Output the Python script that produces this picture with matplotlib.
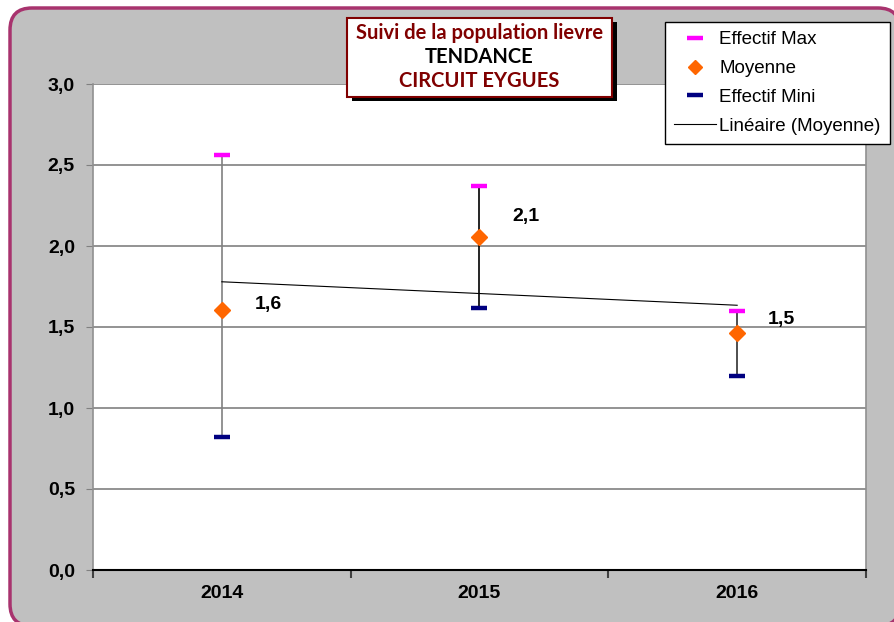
import numpy as np
import matplotlib
matplotlib.use("Agg")
import matplotlib.pyplot as plt
from matplotlib.patches import FancyBboxPatch, Rectangle
from matplotlib.lines import Line2D
from matplotlib.transforms import IdentityTransform

# ---- data ----
years = ["2014", "2015", "2016"]
eff_max = [2.56, 2.37, 1.60]
moyenne = [1.605, 2.055, 1.46]
eff_min = [0.82, 1.62, 1.20]
labels_moy = ["1,6", "2,1", "1,5"]
y_ticks = [0.0, 0.5, 1.0, 1.5, 2.0, 2.5, 3.0]
y_ticklabels = ["0,0", "0,5", "1,0", "1,5", "2,0", "2,5", "3,0"]
legend_labels = ["Effectif Max", "Moyenne", "Effectif Mini", "Linéaire (Moyenne)"]
title_lines = ["Suivi de la population lievre", "TENDANCE", "CIRCUIT EYGUES"]

W, H = 894, 622
DPI = 100
fig = plt.figure(figsize=(W / DPI, H / DPI), dpi=DPI)
fig.patch.set_facecolor("white")

# outer rounded frame
frame = FancyBboxPatch((10, -4), 890, H - 8 + 4, boxstyle="round,pad=0,rounding_size=22",
                       transform=IdentityTransform(), facecolor="#C0C0C0",
                       edgecolor="#A8336E", linewidth=2.5, zorder=0)
fig.add_artist(frame)

def fx(px):
    return px / W

def fy(py):
    return 1 - py / H

ax = fig.add_axes([fx(93), fy(570), fx(866) - fx(93), fy(84) - fy(570)])
ax.set_facecolor("white")

x = np.arange(len(years))
ax.set_xlim(-0.5, len(years) - 0.5)
ax.set_ylim(0, 3.0)

# gridlines
for yv in y_ticks[1:]:
    ax.axhline(yv, color="#808080", lw=1.2, zorder=1)

# error lines (min to max)
vcols = ["#808080", "#000000", "#303030"]
for i in range(len(years)):
    ax.plot([x[i], x[i]], [eff_min[i], eff_max[i]], color=vcols[i], lw=1.2, zorder=2)

# trend line
coef = np.polyfit(x, moyenne, 1)
ax.plot(x, np.polyval(coef, x), color="black", lw=0.8, zorder=2)

# markers
dash_kw = dict(marker="_", markersize=12, markeredgewidth=3.2, linestyle="none", zorder=4)
ax.plot(x, eff_max, color="#FF00FF", **dash_kw)
ax.plot(x, eff_min, color="#000080", **dash_kw)
ax.plot(x, moyenne, marker="D", color="#FF6600", markersize=8.5, linestyle="none", zorder=5)

# data labels
label_offsets = [(24, 4), (24, 15), (22, 10)]
for i in range(len(years)):
    ax.annotate(labels_moy[i], (x[i], moyenne[i]), xytext=label_offsets[i],
                textcoords="offset points", fontsize=14, fontweight="bold",
                fontfamily="Liberation Sans", va="center", ha="left", zorder=6)

# axes styling
ax.set_yticks(y_ticks)
ax.set_yticklabels(y_ticklabels, fontsize=14, fontweight="bold", fontfamily="Liberation Sans")
ax.tick_params(axis="y", length=5, color="#808080", pad=8)
ax.set_xticks([-0.5, 0.5, 1.5, 2.5])
ax.set_xticklabels([])
ax.tick_params(axis="x", which="major", length=6, width=1.5, color="#404040")
ax.set_xticks(x, minor=True)
ax.set_xticklabels(years, minor=True, fontsize=14, fontweight="bold", fontfamily="Liberation Sans")
ax.tick_params(axis="x", which="minor", length=0, pad=11)

ax.spines["bottom"].set_color("black")
ax.spines["bottom"].set_linewidth(1.5)
ax.spines["left"].set_color("#909090")
ax.spines["left"].set_linestyle((0, (2, 1)))
ax.spines["left"].set_linewidth(1.2)
ax.spines["right"].set_color("#909090")
ax.spines["right"].set_linewidth(1.2)
ax.spines["top"].set_visible(False)

# legend
handles = [
    Line2D([], [], color="#FF00FF", marker="_", markersize=12, markeredgewidth=3.2, linestyle="none"),
    Line2D([], [], color="#FF6600", marker="D", markersize=7, linestyle="none"),
    Line2D([], [], color="#000080", marker="_", markersize=12, markeredgewidth=3.2, linestyle="none"),
    Line2D([], [], color="black", lw=0.8),
]
leg = fig.legend(handles, legend_labels, loc="upper left",
                 bbox_to_anchor=(fx(665), fy(22)), frameon=True, fancybox=False,
                 edgecolor="black", facecolor="white", framealpha=1,
                 prop={"family": "Liberation Sans", "size": 13.5},
                 handlelength=2.2, handletextpad=0.2, borderpad=0.5,
                 labelspacing=0.62, borderaxespad=0)
leg.get_frame().set_linewidth(1.0)

# title box with shadow
bx0, by0, bx1, by1 = 347, 18, 612, 97
shadow = Rectangle((fx(bx0 + 5), fy(by1 + 4)), fx(bx1) - fx(bx0), fy(by0) - fy(by1),
                   transform=fig.transFigure, facecolor="black", edgecolor="none", zorder=8)
box = Rectangle((fx(bx0), fy(by1)), fx(bx1) - fx(bx0), fy(by0) - fy(by1),
                transform=fig.transFigure, facecolor="white", edgecolor="#800000",
                linewidth=1.5, zorder=9)
fig.add_artist(shadow)
fig.add_artist(box)
tcols = ["#800000", "#000000", "#800000"]
tys = [33, 57, 81]
for t, c, ty in zip(title_lines, tcols, tys):
    fig.text(fx((bx0 + bx1) / 2), fy(ty), t, color=c, fontsize=14.5, fontweight="bold",
             fontfamily="Lato", ha="center", va="center", zorder=10)

fig.savefig("out.png", dpi=DPI)
